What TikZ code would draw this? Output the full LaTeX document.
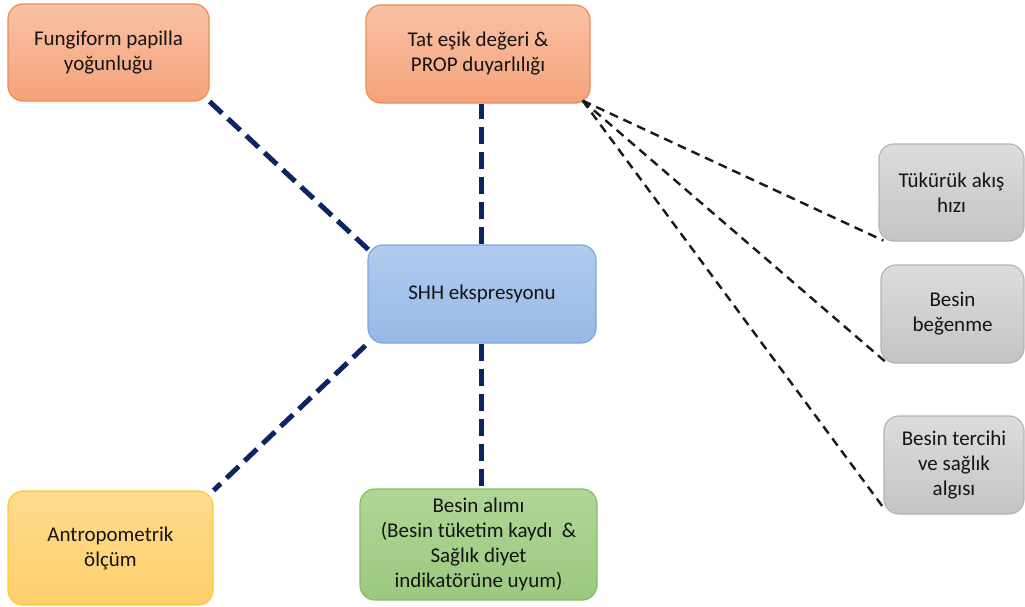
\documentclass[tikz,border=0pt]{standalone}
\usepackage{fontspec}
\setmainfont{Carlito}
\definecolor{txt}{HTML}{141414}
\definecolor{navy}{HTML}{0B2463}
\definecolor{orTop}{HTML}{F8C2A5}
\definecolor{orBot}{HTML}{F4A37B}
\definecolor{orLine}{HTML}{EE8A52}
\definecolor{blTop}{HTML}{B2CBEE}
\definecolor{blBot}{HTML}{97B8E6}
\definecolor{blLine}{HTML}{7DA7DC}
\definecolor{grTop}{HTML}{DCDCDC}
\definecolor{grBot}{HTML}{C4C4C4}
\definecolor{grLine}{HTML}{B4B4B4}
\definecolor{yeTop}{HTML}{FFDB8E}
\definecolor{yeBot}{HTML}{FFCF6C}
\definecolor{yeLine}{HTML}{FFC83A}
\definecolor{gnTop}{HTML}{B1D698}
\definecolor{gnBot}{HTML}{9CC87F}
\definecolor{gnLine}{HTML}{85BC62}
\tikzset{
  box/.style={rounded corners=15pt, line width=1.2pt, align=center,
    inner sep=0pt, text=txt, font=\fontsize{21}{25}\selectfont},
  orangebox/.style={box, draw=orLine, top color=orTop, bottom color=orBot},
  bluebox/.style={box, draw=blLine, top color=blTop, bottom color=blBot},
  graybox/.style={box, draw=grLine, top color=grTop, bottom color=grBot},
  yellowbox/.style={box, draw=yeLine, top color=yeTop, bottom color=yeBot},
  greenbox/.style={box, draw=gnLine, top color=gnTop, bottom color=gnBot},
  thicklink/.style={draw=navy, line width=5pt, dash pattern=on 17pt off 8pt},
  thinlink/.style={draw=black!90, line width=2.4pt, dash pattern=on 9pt off 6pt}
}
\begin{document}
\begin{tikzpicture}[x=1pt,y=-1pt]
\useasboundingbox (0,0) rectangle (1025,607);
% boxes
\node[orangebox, minimum width=201pt, minimum height=97pt] (fung) at (108.5,52.5)
  {Fungiform papilla\\yoğunluğu};
\node[orangebox, minimum width=224pt, minimum height=98pt] (tat) at (478,54)
  {Tat eşik değeri \&\\PROP duyarlılığı};
\node[bluebox, minimum width=228pt, minimum height=98pt] (shh) at (482,294)
  {SHH ekspresyonu};
\node[graybox, minimum width=145pt, minimum height=97pt] (tuk) at (951.5,192.5)
  {Tükürük akış\\hızı};
\node[graybox, minimum width=143pt, minimum height=98pt] (beg) at (952.5,314)
  {Besin\\beğenme};
\node[graybox, minimum width=140pt, minimum height=98pt] (ter) at (954,465)
  {Besin tercihi\\ve sağlık\\algısı};
\node[yellowbox, minimum width=205pt, minimum height=114pt] (ant) at (110.5,548)
  {Antropometrik\\ölçüm};
\node[greenbox, minimum width=237pt, minimum height=111pt] (alim) at (478.5,544.5)
  {Besin alımı\\(Besin tüketim kaydı~ \&\\Sağlık diyet\\indikatörüne uyum)};
% thick links around the central node
\coordinate (tatb) at (tat.south -| 481,0);
\coordinate (shht) at (shh.north -| 481,0);
\coordinate (shhb) at (shh.south -| 481,0);
\coordinate (alimt) at (alim.north -| 481,0);
\draw[thicklink] (fung.south east) -- ([shift={(4pt,-8pt)}]shh.north west);
\draw[thicklink] (shht) -- (tatb);
\draw[thicklink] (shhb) -- (alimt);
\draw[thicklink] ([shift={(-2pt,-2pt)}]shh.south west) -- (ant.north east);
% thin links from the taste threshold node
\coordinate (tatc) at ([shift={(-8pt,3pt)}]tat.south east);
\draw[thinlink] (tatc) -- ([shift={(5pt,1pt)}]tuk.south west);
\draw[thinlink] (tatc) -- ([shift={(6pt,1pt)}]beg.south west);
\draw[thinlink] (tatc) -- ([shift={(0pt,7pt)}]ter.south west);
\end{tikzpicture}
\end{document}
